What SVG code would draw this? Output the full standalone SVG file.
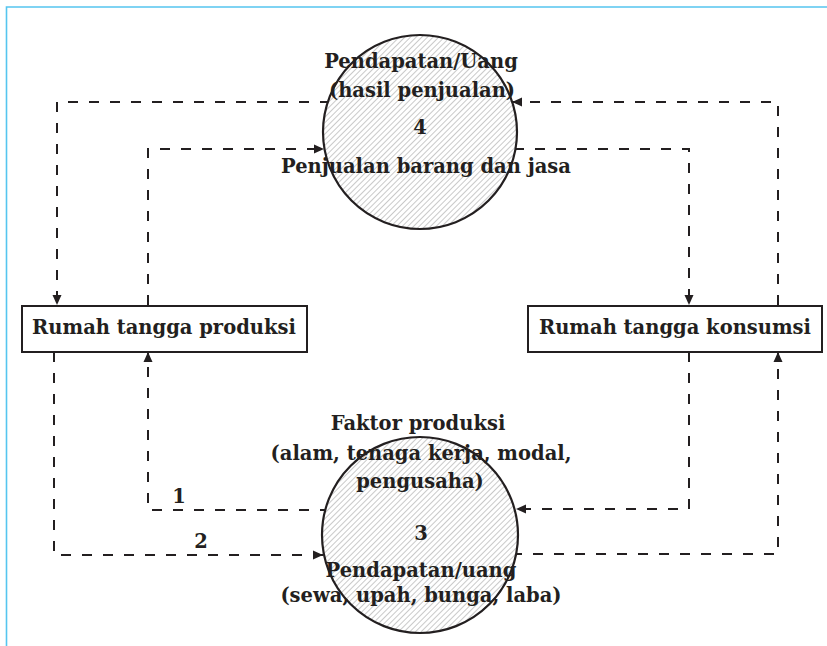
<svg xmlns="http://www.w3.org/2000/svg" width="827" height="646" viewBox="0 0 827 646">
  <style>
    .frame { fill: none; stroke: #55c5ef; stroke-width: 1.6; }
    .flow { fill: none; stroke: #231f20; stroke-width: 2; stroke-dasharray: 10 11; }
    .box { fill: #ffffff; stroke: #231f20; stroke-width: 2; }
    .ring { fill: url(#hatch); stroke: #231f20; stroke-width: 2.2; }
    .lbl { font-family: "DejaVu Serif", "Liberation Serif", serif; font-weight: bold; font-size: 19.5px; fill: #231f20; text-anchor: middle; }
  </style>
  <defs>
    <pattern id="hatch" patternUnits="userSpaceOnUse" width="4" height="4" patternTransform="rotate(45)">
      <rect width="4" height="4" fill="#ffffff"/>
      <line x1="0" y1="0" x2="0" y2="4" stroke="#9c9c9c" stroke-width="1.1"/>
    </pattern>
    <marker id="head" markerUnits="userSpaceOnUse" markerWidth="11" markerHeight="10" refX="10" refY="5" orient="auto">
      <path d="M0,0.5 L10,5 L0,9.5 Z" fill="#231f20"/>
    </marker>
  </defs>

  <rect width="827" height="646" fill="#ffffff"/>
  <path class="frame" d="M6.5,646 V7 H827"/>

  <!-- flows between households and markets -->
  <g id="connectors">
    <path class="flow" marker-end="url(#head)" d="M330,102 H57 V305"/>
    <path class="flow" marker-end="url(#head)" d="M148,305 V149 H324"/>
    <path class="flow" marker-end="url(#head)" d="M778,305 V102 H512"/>
    <path class="flow" marker-end="url(#head)" d="M514,149 H689 V305"/>
    <path class="flow" marker-end="url(#head)" d="M54,352 V555 H323"/>
    <path class="flow" marker-end="url(#head)" d="M330,510 H148 V352"/>
    <path class="flow" marker-end="url(#head)" d="M689,352 V509 H516"/>
    <path class="flow" marker-end="url(#head)" d="M512,554 H778 V352"/>
  </g>

  <g id="market-goods">
    <circle class="ring" cx="420" cy="132" r="97"/>
    <text class="lbl" x="421" y="68">Pendapatan/Uang</text>
    <text class="lbl" x="422" y="97">(hasil penjualan)</text>
    <text class="lbl" x="420" y="134">4</text>
    <text class="lbl" x="426" y="173">Penjualan barang dan jasa</text>
  </g>

  <g id="market-factors">
    <circle class="ring" cx="420" cy="535" r="98"/>
    <text class="lbl" x="418" y="430">Faktor produksi</text>
    <text class="lbl" x="421" y="460">(alam, tenaga kerja, modal,</text>
    <text class="lbl" x="420" y="488">pengusaha)</text>
    <text class="lbl" x="421" y="540">3</text>
    <text class="lbl" x="421" y="577">Pendapatan/uang</text>
    <text class="lbl" x="421" y="602">(sewa, upah, bunga, laba)</text>
  </g>

  <g id="rt-produksi">
    <rect class="box" x="22" y="306" width="285" height="46"/>
    <text class="lbl" x="164" y="334">Rumah tangga produksi</text>
  </g>

  <g id="rt-konsumsi">
    <rect class="box" x="528" y="306" width="294" height="46"/>
    <text class="lbl" x="675" y="334">Rumah tangga konsumsi</text>
  </g>

  <g id="flow-labels">
    <text class="lbl" x="179" y="503">1</text>
    <text class="lbl" x="201" y="548">2</text>
  </g>
</svg>
